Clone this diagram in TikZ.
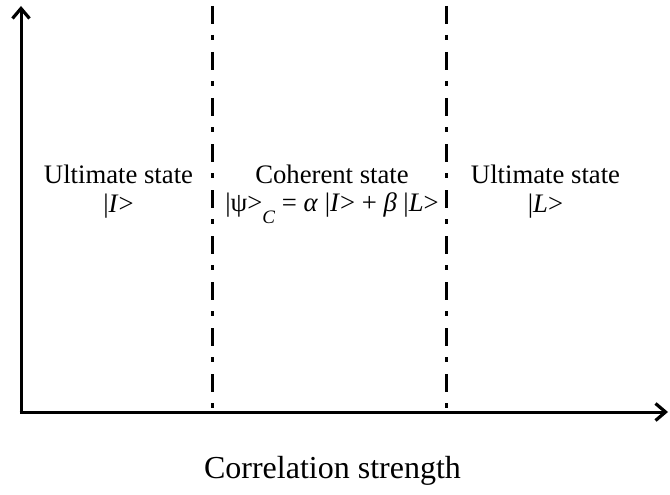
\documentclass[tikz,border=0pt]{standalone}
\usepackage{fontspec}
\setmainfont{Liberation Serif}
\usetikzlibrary{arrows.meta}
\tikzset{
  axis/.style={line width=3pt, -{Straight Barb[length=10pt, width=17pt, line width=3.2pt]}},
  divider/.style={line width=3pt, dash pattern=on 18pt off 11pt on 5pt off 12pt},
  lbl/.style={anchor=base, inner sep=0pt, font=\fontsize{26.7}{30}\selectfont}
}

\begin{document}
\begin{tikzpicture}[x=1pt, y=-1pt]
        \useasboundingbox (0,0) rectangle (670,495);
        \coordinate (origin) at (21,412);
        \coordinate (ytip) at (21,6);
        \coordinate (xtip) at (668,412);
        \coordinate (lefttop) at (212.5,6);
        \coordinate (leftbot) at (212.5,412);
        \coordinate (righttop) at (446.5,6);
        \coordinate (rightbot) at (446.5,412);

        \draw [divider] (lefttop) -- (leftbot);
        \draw [divider] (righttop) -- (rightbot);
        \draw [axis] ([xshift=-1.5pt]origin) -- (xtip);
        \draw [axis] ([yshift=1.5pt]origin) -- (ytip);

        \node (lefttitle) [lbl] at (118.5,183) {Ultimate state};
        \node (leftket) [lbl] at (118.5,212) {|\textit{I}>};
        \node (midtitle) [lbl] at (332,183) {Coherent state};
        \node (midket) [lbl] at (332,211) {|ψ>\raisebox{-13pt}{\fontsize{19}{19}\selectfont\textit{C}} = \textit{α} |\textit{I}> + \textit{β} |\textit{L}>};
        \node (righttitle) [lbl] at (545.5,183) {Ultimate state};
        \node (rightket) [lbl] at (545.5,212) {|\textit{L}>};
        \node (xlabel) [lbl, font=\fontsize{32}{36}\selectfont] at (332.5,478) {Correlation strength};
    \end{tikzpicture}
\end{document}
